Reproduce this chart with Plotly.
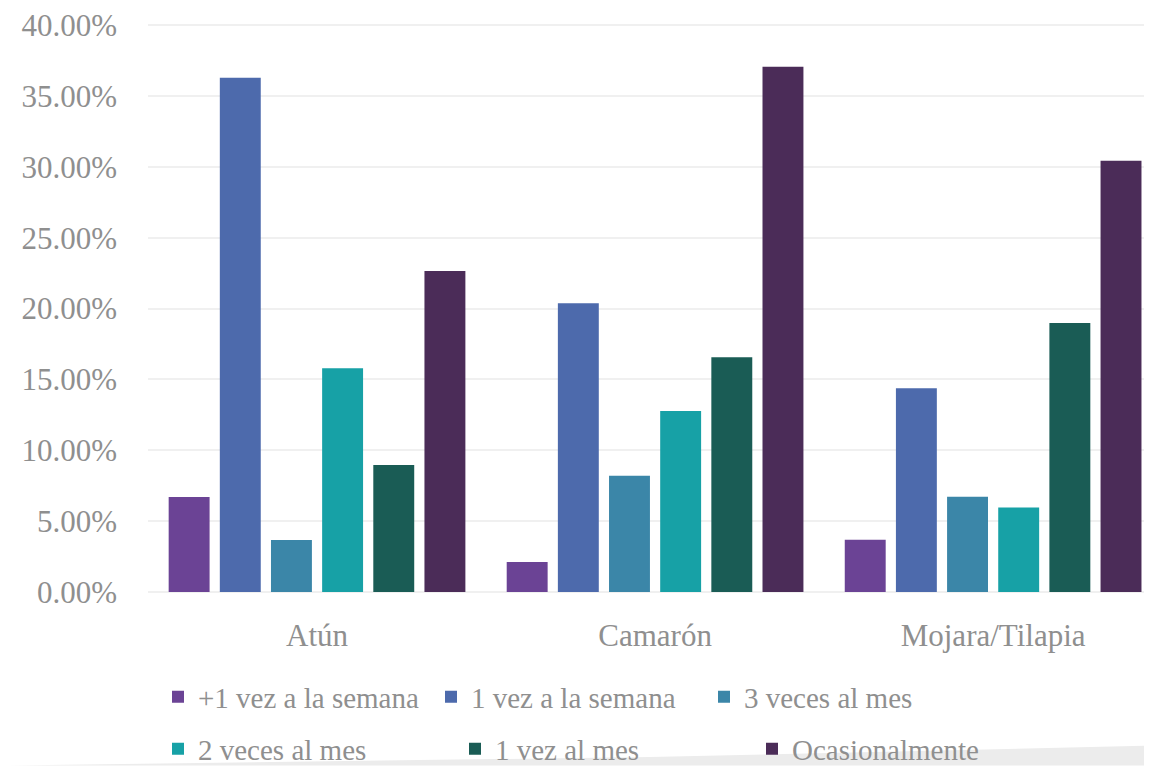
import plotly.graph_objects as go

categories = ["Atún", "Camarón", "Mojara/Tilapia"]
series_names = ["+1 vez a la semana", "1 vez a la semana", "3 veces al mes",
                "2 veces al mes", "1 vez al mes", "Ocasionalmente"]
values = {
    "+1 vez a la semana": [0.0670, 0.0212, 0.0369],
    "1 vez a la semana": [0.3628, 0.2037, 0.1437],
    "3 veces al mes": [0.0367, 0.0820, 0.0672],
    "2 veces al mes": [0.1578, 0.1277, 0.0597],
    "1 vez al mes": [0.0896, 0.1656, 0.1898],
    "Ocasionalmente": [0.2265, 0.3706, 0.3043],
}
colors = ["#6B4395", "#4D6AAC", "#3B86A8", "#17A1A6", "#1A5C55", "#4B2C58"]
y_ticks = [0, 0.05, 0.10, 0.15, 0.20, 0.25, 0.30, 0.35, 0.40]

# page body has an 8px margin, so the figure is drawn 8px smaller
W, H = 1144, 758
FONT = "'Liberation Serif', 'DejaVu Serif', serif"
GRAY = "#8f8f8f"

fig = go.Figure()
for i, name in enumerate(series_names):
    fig.add_trace(go.Bar(
        x=categories, y=values[name], name=name,
        marker=dict(color=colors[i], line=dict(width=0)),
        legend="legend" if i < 3 else "legend2",
    ))

fig.update_layout(
    width=W, height=H,
    margin=dict(l=140, r=0, t=15, b=174, autoexpand=False),
    paper_bgcolor="white", plot_bgcolor="white",
    barmode="group", bargap=0.092, bargroupgap=0.2,
    font=dict(family=FONT, size=30, color=GRAY),
    xaxis=dict(range=[-0.5, 2.47], showgrid=False, zeroline=False,
               showline=False, ticks="", ticklabelstandoff=22, automargin=False,
               tickfont=dict(family=FONT, size=31, color=GRAY)),
    yaxis=dict(range=[0, 0.4015], tickvals=y_ticks, tickformat=".2%",
               showgrid=True, gridcolor="#f0f0f0", gridwidth=2,
               zeroline=True, zerolinecolor="#f0f0f0", zerolinewidth=2,
               showline=False, ticks="", ticklabelstandoff=30, automargin=False,
               ticklabeloverflow="allow",
               tickfont=dict(family=FONT, size=31, color=GRAY)),
    legend=dict(orientation="h", xref="container", yref="container",
                x=150 / W, y=1 - 689 / H, xanchor="left", yanchor="middle",
                entrywidth=228, entrywidthmode="pixels", itemwidth=30,
                font=dict(family=FONT, size=29, color=GRAY), bgcolor="rgba(0,0,0,0)",
                traceorder="normal"),
    legend2=dict(orientation="h", xref="container", yref="container",
                 x=150 / W, y=1 - 741 / H, xanchor="left", yanchor="middle",
                 entrywidth=252, entrywidthmode="pixels", itemwidth=30,
                 font=dict(family=FONT, size=29, color=GRAY), bgcolor="rgba(0,0,0,0)",
                 traceorder="normal"),
    shapes=[dict(type="path", xref="paper", yref="paper", layer="below",
                 path="M -0.14,-0.305 L 1,-0.305 L 1,-0.27 L 0.5,-0.29 Z",
                 fillcolor="#ececec", line=dict(width=0))],
)

fig.write_html("out.html")
